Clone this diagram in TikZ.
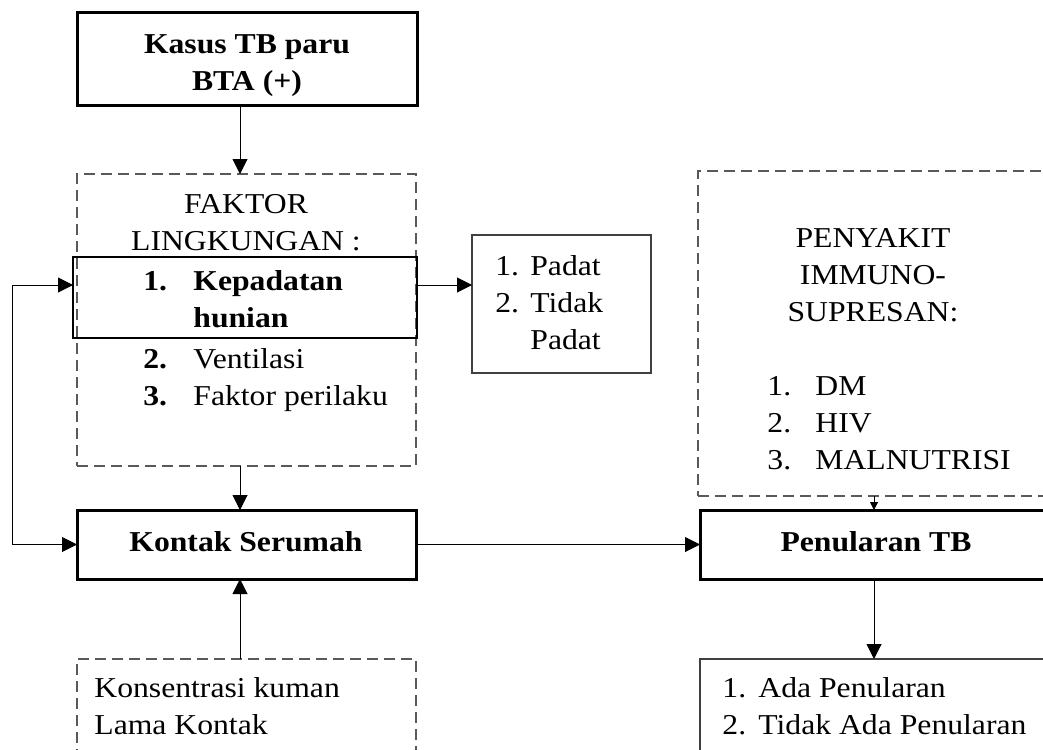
\documentclass[tikz,border=0pt]{standalone}
\usepackage{fontspec}
\setmainfont{Liberation Serif}[FakeStretch=1.1]
\usetikzlibrary{arrows.meta}

\begin{document}
\begin{tikzpicture}[
    x=0.5pt, y=-0.5pt,
    font=\fontsize{14.4}{18.5}\selectfont,
    >={Triangle[length=7.5pt, width=7.5pt]},
    box/.style={draw=black!75, line width=0.7pt, inner sep=0pt, outer sep=0pt, anchor=north west},
    thickbox/.style={box, draw=black, line width=1.5pt},
    dashbox/.style={box, draw=black!65, dash pattern=on 5.5pt off 3pt},
    txt/.style={inner sep=0pt, anchor=base west},
    link/.style={->, line width=0.5pt} % 箭头样式
]
\useasboundingbox (0,0) rectangle (1043,749);
\clip (0,0) rectangle (1043,749);

% 辅助坐标
\coordinate (axisL) at (240,0);
\coordinate (axisR) at (874,0);
\coordinate (row) at (0,285);
\coordinate (turn) at (12,0);

% 方框
\node[thickbox, minimum width=170pt, minimum height=46.5pt] (kasus) at (77,13) {};
\node[dashbox, minimum width=169.5pt, minimum height=146pt] (faktor) at (77,174) {};
\node[box, draw=black, minimum width=172pt, minimum height=40.5pt] (kepadatan) at (73,257) {};
\node[box, minimum width=89.5pt, minimum height=69pt] (padat) at (472,235) {};
\node[dashbox, minimum width=200pt, minimum height=162.5pt] (penyakit) at (698,171) {};
\node[thickbox, minimum width=169.5pt, minimum height=34.5pt] (kontak) at (77,510) {};
\node[thickbox, minimum width=200pt, minimum height=34.5pt] (penularan) at (700,510) {};
\node[dashbox, minimum width=169.5pt, minimum height=75pt] (konsentrasi) at (77,659) {};
\node[box, minimum width=200pt, minimum height=75pt] (hasil) at (700,659) {};

% 文字
\node[txt, anchor=base] (kasusT) at (247,54)
    {\begin{tabular}[t]{@{}c@{}}\textbf{Kasus TB paru}\\\textbf{BTA (+)}\end{tabular}};
\node[txt, anchor=base] (faktorT) at (246,213)
    {\begin{tabular}[t]{@{}c@{}}FAKTOR\\LINGKUNGAN :\end{tabular}};
\node[txt] (kepadatanT) at (143,290)
    {\begin{tabular}[t]{@{}p{25pt}@{}l@{}}\textbf{1.}&\textbf{Kepadatan}\\&\textbf{hunian}\end{tabular}};
\node[txt] (faktorL) at (143,368)
    {\begin{tabular}[t]{@{}p{25pt}@{}l@{}}\textbf{2.}&Ventilasi\\\textbf{3.}&Faktor perilaku\end{tabular}};
\node[txt] (padatT) at (495,275)
    {\begin{tabular}[t]{@{}p{17.5pt}@{}l@{}}1.&Padat\\2.&Tidak\\&Padat\end{tabular}};
\node[txt, anchor=base] (penyakitT) at (873,247)
    {\begin{tabular}[t]{@{}c@{}}PENYAKIT\\IMMUNO-\\SUPRESAN:\end{tabular}};
\node[txt] (penyakitL) at (767,395)
    {\begin{tabular}[t]{@{}p{24pt}@{}l@{}}1.&DM\\2.&HIV\\3.&MALNUTRISI\end{tabular}};
\node[txt, anchor=base] (kontakT) at (246,551) {\textbf{Kontak Serumah}};
\node[txt, anchor=base] (penularanT) at (876,551) {\textbf{Penularan TB}};
\node[txt] (konsentrasiT) at (94,697)
    {\begin{tabular}[t]{@{}l@{}}Konsentrasi kuman\\Lama Kontak\end{tabular}};
\node[txt] (hasilT) at (722,697)
    {\begin{tabular}[t]{@{}p{18pt}@{}l@{}}1.&Ada Penularan\\2.&Tidak Ada Penularan\end{tabular}};

% 连线
\draw[link] (kasus.south -| axisL) -- (faktor.north -| axisL);
\draw[link] (faktor.south -| axisL) -- (kontak.north -| axisL);
\draw[link] (konsentrasi.north -| axisL) -- (kontak.south -| axisL);
\draw[link] (kepadatan.east |- row) -- (padat.west |- row);
\draw[link, <->] (kepadatan.west |- row) -- (turn |- row) |- (kontak.west);
\draw[link] (kontak) -- (penularan);
\draw[link, -{Triangle[length=4pt, width=4pt]}] (penyakit.south -| axisR) -- (penularan.north -| axisR);
\draw[link] (penularan.south -| axisR) -- (hasil.north -| axisR);

\end{tikzpicture}
\end{document}
